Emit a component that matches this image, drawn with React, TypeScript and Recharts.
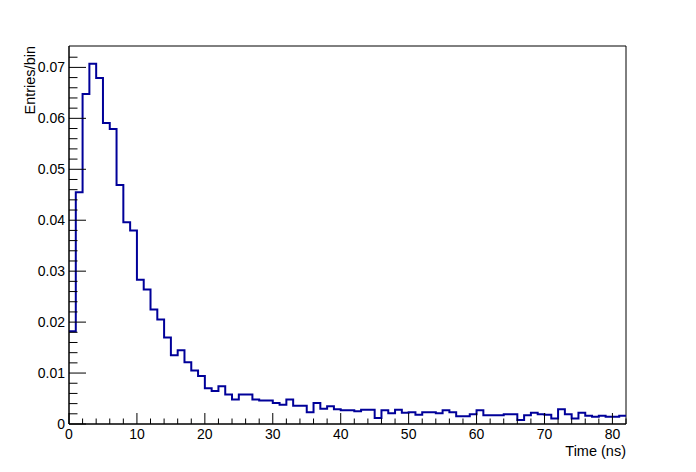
import { LineChart, Line, XAxis, YAxis, ReferenceArea } from 'recharts'

// bin contents, 1 ns wide bins starting at 0 ns
const binValues = [
  0.0182, 0.0455, 0.0648, 0.0707, 0.0679, 0.0591, 0.0579, 0.0469, 0.0396, 0.038,
  0.0283, 0.0264, 0.0225, 0.0205, 0.017, 0.0135, 0.0145, 0.0121, 0.0105, 0.0094,
  0.007, 0.0065, 0.0074, 0.0058, 0.0048, 0.0058, 0.0058, 0.0048, 0.0046, 0.0046,
  0.0041, 0.0038, 0.0048, 0.0036, 0.0036, 0.0023, 0.0041, 0.003, 0.0035, 0.0029,
  0.0027, 0.0027, 0.0025, 0.0028, 0.0028, 0.0012, 0.0027, 0.0021, 0.0028, 0.0022,
  0.0023, 0.0018, 0.0023, 0.0023, 0.0021, 0.0027, 0.0023, 0.0015, 0.0015, 0.0019,
  0.0027, 0.0017, 0.0017, 0.0017, 0.0019, 0.0019, 0.0008, 0.0017, 0.0022, 0.0019,
  0.0018, 0.0011, 0.0029, 0.0019, 0.0011, 0.0022, 0.0016, 0.0014, 0.0016, 0.0014,
  0.0014, 0.0016,
]
const binWidth = 1
const xMax = 82
const yMax = 0.0742

const xTicks = [0, 2, 4, 6, 8, 10, 12, 14, 16, 18, 20, 22, 24, 26, 28, 30, 32, 34, 36, 38, 40,
  42, 44, 46, 48, 50, 52, 54, 56, 58, 60, 62, 64, 66, 68, 70, 72, 74, 76, 78, 80, 82]
const yTicks = [0, 0.002, 0.004, 0.006, 0.008, 0.01, 0.012, 0.014, 0.016, 0.018, 0.02,
  0.022, 0.024, 0.026, 0.028, 0.03, 0.032, 0.034, 0.036, 0.038, 0.04, 0.042, 0.044, 0.046,
  0.048, 0.05, 0.052, 0.054, 0.056, 0.058, 0.06, 0.062, 0.064, 0.066, 0.068, 0.07, 0.072]

// stepAfter needs one extra point to close the last bin
const data = binValues.map((v, i) => ({ t: i * binWidth, v }))
data.push({ t: binValues.length * binWidth, v: binValues[binValues.length - 1] })

const font = '"Liberation Sans", Arial, Helvetica, sans-serif'

function XTick(props: any) {
  const { x, y, payload } = props
  const major = payload.value % 10 === 0
  return (
    <g>
      <line x1={x} x2={x} y1={y} y2={y - (major ? 11 : 5.5)} stroke="#000" />
      {major && (
        <text x={x} y={y + 15} textAnchor="middle" fontSize={14} fontFamily={font} fill="#000">
          {payload.value}
        </text>
      )}
    </g>
  )
}

function YTick(props: any) {
  const { x, y, payload } = props
  const major = Math.round(payload.value * 1000) % 10 === 0
  return (
    <g>
      <line x1={x} x2={x + (major ? 17 : 8.5)} y1={y} y2={y} stroke="#000" />
      {major && (
        <text x={x - 4} y={y + 5} textAnchor="end" fontSize={14} fontFamily={font} fill="#000">
          {payload.value === 0 ? '0' : payload.value.toFixed(2)}
        </text>
      )}
    </g>
  )
}

export default function App() {
  return (
    <div style={{ position: 'absolute', left: 0, top: 0, background: '#fff' }}>
      <LineChart width={696} height={472} data={data} margin={{ top: 46, right: 70, left: 0, bottom: 0 }}>
        <XAxis
          dataKey="t"
          type="number"
          domain={[0, xMax]}
          ticks={xTicks}
          interval={0}
          height={48}
          tickLine={false}
          tickSize={0}
          tickMargin={0}
          tick={XTick}
          axisLine={{ stroke: '#000' }}
          label={{
            content: (p: any) => (
              <text x={p.viewBox.x + p.viewBox.width} y={p.viewBox.y + 32} textAnchor="end" fontSize={14.5} fontFamily={font} fill="#000">
                Time (ns)
              </text>
            ),
          }}
        />
        <YAxis
          type="number"
          domain={[0, yMax]}
          ticks={yTicks}
          interval={0}
          width={69}
          tickLine={false}
          tickSize={0}
          tickMargin={0}
          tick={YTick}
          axisLine={{ stroke: '#000' }}
          label={{
            content: (p: any) => (
              <text x={35} y={p.viewBox.y} transform={`rotate(-90, 35, ${p.viewBox.y})`} textAnchor="end" fontSize={14.5} fontFamily={font} fill="#000">
                Entries/bin
              </text>
            ),
          }}
        />
        <ReferenceArea x1={0} x2={xMax} y1={0} y2={yMax} fill="none" stroke="#000" strokeWidth={1} />
        <Line type="stepAfter" dataKey="v" stroke="#000099" strokeWidth={2} dot={false} isAnimationActive={false} />
      </LineChart>
    </div>
  )
}
